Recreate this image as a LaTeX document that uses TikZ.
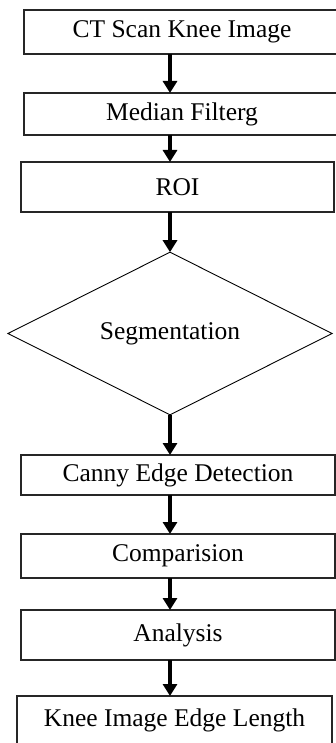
\documentclass[tikz,border=0pt]{standalone}
\usepackage{fontspec}
\setmainfont{Liberation Serif}
\usetikzlibrary{arrows.meta,shapes.geometric}
\tikzset{
  stepbox/.style={draw=black!85, line width=1.8pt, inner sep=0pt, outer sep=0pt,
                  align=center, font=\fontsize{25.5}{30}\selectfont},
  decision/.style={diamond, draw=black, line width=0.9pt, inner sep=0pt, outer sep=0pt,
                   align=center, font=\fontsize{25.5}{30}\selectfont},
  flow/.style={-{Triangle[length=12pt,width=14pt]}, line width=3.5pt},
}

\begin{document}
\begin{tikzpicture}[x=1pt,y=1pt]
  \clip (0,0) rectangle (336,-743);
  \fill[white] (0,0) rectangle (336,-743);

  % processing chain
  \node[stepbox, minimum width=316pt, minimum height=44pt] (scan)   at (182,-32)    {CT Scan Knee Image};
  \node[stepbox, minimum width=316pt, minimum height=42pt] (median) at (182,-114)   {Median Filterg};
  \node[stepbox, minimum width=313pt, minimum height=50pt] (roi)    at (177.5,-187) {ROI};
  \node[decision, minimum width=324pt, minimum height=157pt] (seg)  at (170,-333.5) {Segmentation};
  \node[stepbox, minimum width=314pt, minimum height=40pt] (canny)  at (178,-475)   {Canny Edge Detection};
  \node[stepbox, minimum width=314pt, minimum height=44pt] (comp)   at (178,-556)   {Comparision};
  \node[stepbox, minimum width=314pt, minimum height=50pt] (anal)   at (178,-635)   {Analysis};
  \node[stepbox, minimum width=315pt, minimum height=49pt] (length) at (174.5,-720.5) {Knee Image Edge Length};

  % arrows
  \draw[flow] (scan.south -| seg.north)   -- (median.north -| seg.north);
  \draw[flow] (median.south -| seg.north) -- (roi.north -| seg.north);
  \draw[flow] (roi.south -| seg.north)    -- (seg.north);
  \draw[flow] (seg.south)                 -- (canny.north -| seg.south);
  \draw[flow] (canny.south -| seg.south)  -- (comp.north -| seg.south);
  \draw[flow] (comp.south -| seg.south)   -- (anal.north -| seg.south);
  \draw[flow] (anal.south -| seg.south)   -- (length.north -| seg.south);
\end{tikzpicture}
\end{document}
